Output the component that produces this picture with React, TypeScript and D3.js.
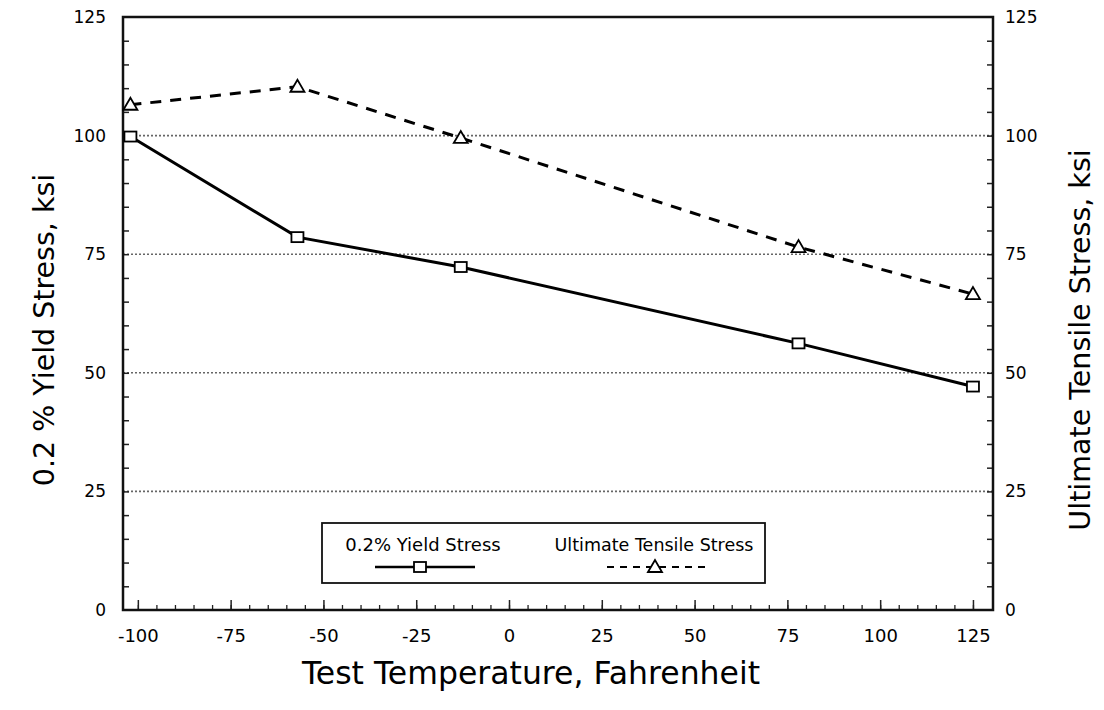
import React, { useRef, useEffect } from 'react'
import * as d3 from 'd3'

// values
const temps = [-102, -57, -13, 78, 125]
const yieldStress = [99.8, 78.6, 72.3, 56.2, 47.1]
const tensileStress = [106.5, 110.3, 99.5, 76.5, 66.6]

const xTicks = [-100, -75, -50, -25, 0, 25, 50, 75, 100, 125]
const yTicks = [0, 25, 50, 75, 100, 125]
const gridLevels = [25, 50, 75, 100]

const FONT = '"DejaVu Sans", Verdana, sans-serif'

export default function App() {
  const svgRef = useRef<SVGSVGElement>(null)

  useEffect(() => {
    const svg = d3.select(svgRef.current)
    svg.selectAll('*').remove()

    const left = 123, right = 993, top = 17, bottom = 610
    const x = d3.scaleLinear().domain([-104, 130.4]).range([left, right])
    const y = d3.scaleLinear().domain([0, 125]).range([bottom, top])

    // dotted grid
    svg.append('g')
      .selectAll('line')
      .data(gridLevels)
      .join('line')
      .attr('x1', left).attr('x2', right)
      .attr('y1', d => y(d)).attr('y2', d => y(d))
      .attr('stroke', '#666')
      .attr('stroke-width', 1.6)
      .attr('stroke-dasharray', '2,2')

    // minor ticks (inside)
    const minorX = d3.range(-100, 126, 5)
    const minorY = d3.range(5, 125, 5)

    svg.append('g')
      .attr('transform', `translate(0,${bottom})`)
      .call(d3.axisBottom(x).tickValues(minorX).tickSize(-5).tickFormat(() => ''))
      .call(g => g.select('.domain').remove())
      .call(g => g.selectAll('line').attr('stroke', '#222').attr('stroke-width', 1.3))

    svg.append('g')
      .attr('transform', `translate(0,${bottom})`)
      .call(d3.axisBottom(x).tickValues(xTicks).tickSize(-10).tickPadding(19))
      .call(g => g.select('.domain').remove())
      .call(g => g.selectAll('line').attr('stroke', '#222').attr('stroke-width', 1.5))
      .call(g => g.selectAll('text')
        .attr('font-family', FONT).attr('font-size', 18).attr('fill', '#000')
        .text(d => String(d).replace('−', '-')))

    svg.append('g')
      .attr('transform', `translate(${left},0)`)
      .call(d3.axisLeft(y).tickValues(minorY).tickSize(-6).tickFormat(() => ''))
      .call(g => g.select('.domain').remove())
      .call(g => g.selectAll('line').attr('stroke', '#222').attr('stroke-width', 1.5))

    svg.append('g')
      .attr('transform', `translate(${left},0)`)
      .call(d3.axisLeft(y).tickValues(yTicks).tickSize(0).tickPadding(17))
      .call(g => g.select('.domain').remove())
      .call(g => g.selectAll('text')
        .attr('font-family', FONT).attr('font-size', 17).attr('fill', '#000'))

    svg.append('g')
      .attr('transform', `translate(${right},0)`)
      .call(d3.axisRight(y).tickValues(minorY).tickSize(-6).tickFormat(() => ''))
      .call(g => g.select('.domain').remove())
      .call(g => g.selectAll('line').attr('stroke', '#222').attr('stroke-width', 1.5))

    svg.append('g')
      .attr('transform', `translate(${right},0)`)
      .call(d3.axisRight(y).tickValues(yTicks).tickSize(0).tickPadding(12))
      .call(g => g.select('.domain').remove())
      .call(g => g.selectAll('text')
        .attr('font-family', FONT).attr('font-size', 17).attr('fill', '#000'))

    // frame
    svg.append('rect')
      .attr('x', left).attr('y', top)
      .attr('width', right - left).attr('height', bottom - top)
      .attr('fill', 'none').attr('stroke', '#111').attr('stroke-width', 2.5)

    const line = d3.line<[number, number]>().x(d => x(d[0])).y(d => y(d[1]))
    const yieldPts: [number, number][] = temps.map((t, i) => [t, yieldStress[i]])
    const tensPts: [number, number][] = temps.map((t, i) => [t, tensileStress[i]])

    svg.append('path')
      .attr('d', line(yieldPts))
      .attr('fill', 'none').attr('stroke', '#000').attr('stroke-width', 3)

    svg.append('path')
      .attr('d', line(tensPts))
      .attr('fill', 'none').attr('stroke', '#000').attr('stroke-width', 3)
      .attr('stroke-dasharray', '11,9')

    const square = (g: any, cx: number, cy: number) =>
      g.append('rect')
        .attr('x', cx - 6).attr('y', cy - 5).attr('width', 12).attr('height', 10)
        .attr('fill', '#fff').attr('stroke', '#000').attr('stroke-width', 1.8)
    const triangle = (g: any, cx: number, cy: number) =>
      g.append('path')
        .attr('d', `M${cx - 7},${cy + 5}L${cx},${cy - 7}L${cx + 7},${cy + 5}Z`)
        .attr('fill', '#fff').attr('stroke', '#000').attr('stroke-width', 1.8)

    const marks = svg.append('g')
    yieldPts.forEach(p => square(marks, x(p[0]), y(p[1])))
    tensPts.forEach(p => triangle(marks, x(p[0]), y(p[1])))

    // legend
    const lg = svg.append('g')
    lg.append('rect')
      .attr('x', 322).attr('y', 523).attr('width', 443).attr('height', 60)
      .attr('fill', '#fff').attr('stroke', '#111').attr('stroke-width', 1.8)
    lg.append('text').attr('x', 423).attr('y', 551).attr('text-anchor', 'middle')
      .attr('font-family', FONT).attr('font-size', 18).text('0.2% Yield Stress')
    lg.append('text').attr('x', 654).attr('y', 551).attr('text-anchor', 'middle')
      .attr('font-family', FONT).attr('font-size', 17.5).text('Ultimate Tensile Stress')
    lg.append('line').attr('x1', 375).attr('x2', 475).attr('y1', 567).attr('y2', 567)
      .attr('stroke', '#000').attr('stroke-width', 2.5)
    square(lg, 420, 567)
    lg.append('line').attr('x1', 607).attr('x2', 705).attr('y1', 567).attr('y2', 567)
      .attr('stroke', '#000').attr('stroke-width', 2).attr('stroke-dasharray', '7,6')
    triangle(lg, 655, 567)

    // axis titles
    svg.append('text')
      .attr('x', 531).attr('y', 684).attr('text-anchor', 'middle')
      .attr('font-family', FONT).attr('font-size', 31.5)
      .text('Test Temperature, Fahrenheit')

    svg.append('text')
      .attr('transform', 'translate(54,330) rotate(-90)')
      .attr('text-anchor', 'middle')
      .attr('font-family', FONT).attr('font-size', 28.5)
      .text('0.2 % Yield Stress, ksi')

    svg.append('text')
      .attr('transform', 'translate(1090,340) rotate(-90)')
      .attr('text-anchor', 'middle')
      .attr('font-family', FONT).attr('font-size', 28.5)
      .text('Ultimate Tensile Stress, ksi')
  }, [])

  return (
    <svg
      ref={svgRef}
      width={1104}
      height={710}
      style={{ position: 'absolute', left: 0, top: 0, background: '#fff' }}
    />
  )
}
